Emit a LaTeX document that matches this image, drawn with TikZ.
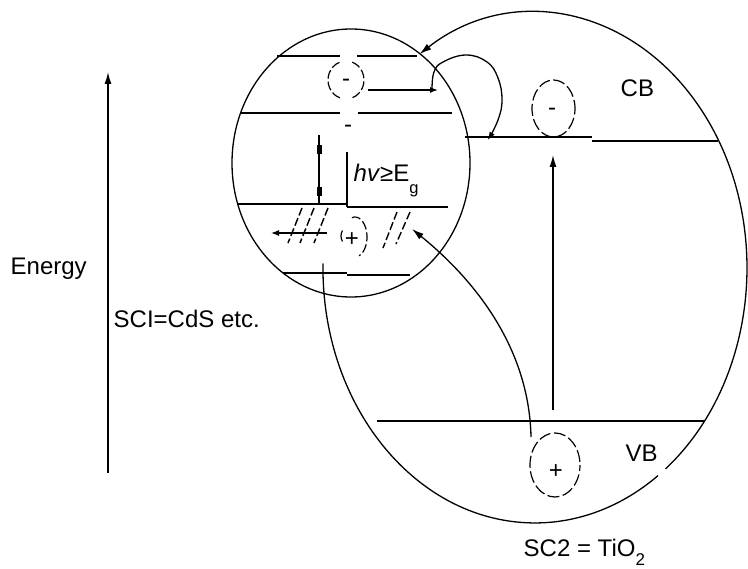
\documentclass[tikz,border=0pt]{standalone}
\usepackage{fontspec}
\setmainfont{Liberation Sans}
\usetikzlibrary{arrows.meta}
\begin{document}
\begin{tikzpicture}[x=1pt,y=-1pt,line width=1.4pt,
  arr/.style={-{Latex[length=12pt,width=7pt]}},
  arrsmall/.style={-{Latex[length=8pt,width=6pt]}},
  lbl/.style={inner sep=0pt,anchor=base west,font=\fontsize{24}{28}\selectfont},
  sign/.style={inner sep=0pt,anchor=base,font=\fontsize{24}{28}\selectfont},
  hatch/.style={line width=1.4pt,dash pattern=on 8pt off 3pt},
  ring/.style={line width=1.3pt}]
\fill[white] (0,0) rectangle (748,569);
\useasboundingbox (0,0) rectangle (748,569);

% energy axis
\coordinate (eBot) at (108,473);
\coordinate (eTop) at (108,72);
\draw[arr] (eBot) -- (eTop);
\node[lbl] (energy) at (10,275) {Energy};
\node[lbl] (sc1) at (113,328) {SCI=CdS etc.};

% small circle (SC1)
\draw[ring] (351,163) ellipse [x radius=119,y radius=134];

% big circle (SC2), open, ending with an arrow at the small circle
\draw[ring] (323,263.5) arc[start angle=181,end angle=54.5,x radius=212,y radius=255];
\draw[ring,arr] (665.5,468.9) arc[start angle=52,end angle=-123,x radius=212,y radius=255];

% SC1 conduction band
\draw (277,56) -- (340,56);
\draw (357,56) -- (417,56);
\draw (240,113) -- (340,113);
\draw (358,113) -- (452,113);
\node[sign] (dashA) at (348,133) {-};

% SC1 electron
\draw[line width=1.2pt,dash pattern=on 9pt off 3pt] (346,80) ++(110:18 and 19) arc[start angle=110,end angle=250,x radius=18,y radius=19];
\draw[line width=1.2pt,dash pattern=on 9pt off 3pt] (346,80) ++(-70:18 and 19) arc[start angle=-70,end angle=70,x radius=18,y radius=19];
\node[sign] (e1) at (346,87) {-};
\coordinate (e1a) at (368,90);
\coordinate (e1b) at (438,90);
\draw[arrsmall] (e1a) -- (e1b);

% loop into SC2 conduction band
\draw[arrsmall,line width=1.3pt] plot[smooth,tension=0.7] coordinates {(432,90) (434,72) (443,62) (466,55) (487,62) (498,78) (502,100) (498,120) (488,140)};

% SC1 valence band and gap
\draw (237,204) -- (347,204);
\draw (347,207) -- (448,207);
\draw (347,152) -- (347,207);
\draw (319,135) -- (319,204);
\fill (316.5,145) rectangle (321.5,154);
\fill (316.5,187) rectangle (321.5,196);
\node[lbl] (hv) at (353,182) {\textit{hv}≥E\raisebox{-11.6pt}{\fontsize{16.5}{18}\selectfont g}};
\draw (283,273) -- (347,273);
\draw (347,275) -- (410,275);

% hole in SC1 VB, hatches and leftward arrow
\draw[hatch] (302,208) -- (288,243);
\draw[hatch] (314,208) -- (300,243);
\draw[hatch] (328,208) -- (314,243);
\draw[hatch] (397,212) -- (383,248);
\draw[hatch] (410,212) -- (396,244);
\coordinate (h1a) at (327,233);
\coordinate (h1b) at (271,233);
\draw[arrsmall,line width=1.2pt] (h1a) -- (h1b);
\draw[line width=1.2pt] (352,236) ++(150:11) arc[start angle=150,end angle=210,radius=11];
\draw[line width=1.2pt,dash pattern=on 9pt off 3pt] (355,237) ++(-105:12 and 20) arc[start angle=-105,end angle=70,x radius=12,y radius=20];
\node[sign] (h1) at (352,246.4) {+};

% SC2 conduction band
\draw (465,137) -- (592,137);
\draw (592,141) -- (718,141);
\draw[line width=1.2pt,dash pattern=on 12pt off 3.5pt,dash phase=6pt] (553.5,108.5) ellipse [x radius=21.5,y radius=28.5];
\node[sign] (e2) at (552,116) {-};
\node[lbl] (cb) at (620,97) {CB};

% excitation arrow in SC2
\coordinate (vUp1) at (553,410);
\coordinate (vUp2) at (553,155);
\draw[arr] (vUp1) -- (vUp2);

% SC2 valence band
\draw (377,421) -- (705,421);
\draw[line width=1.2pt,dash pattern=on 12pt off 3.5pt,dash phase=6pt] (555,465) ellipse [x radius=25,y radius=32];
\node[sign] (h2) at (556,479) {+};
\node[lbl] (vb) at (625,462) {VB};

% hole transfer arrow SC2 VB -> SC1 VB
\coordinate (ht1) at (531,437);
\coordinate (ht2) at (412,229);
\draw[arr,line width=1.3pt] (ht1) .. controls (529,340) and (465,272) .. (ht2);

\node[lbl] (sc2) at (523,557) {SC2 = TiO\raisebox{-8.5pt}{\fontsize{17}{18}\selectfont 2}};
\end{tikzpicture}
\end{document}
